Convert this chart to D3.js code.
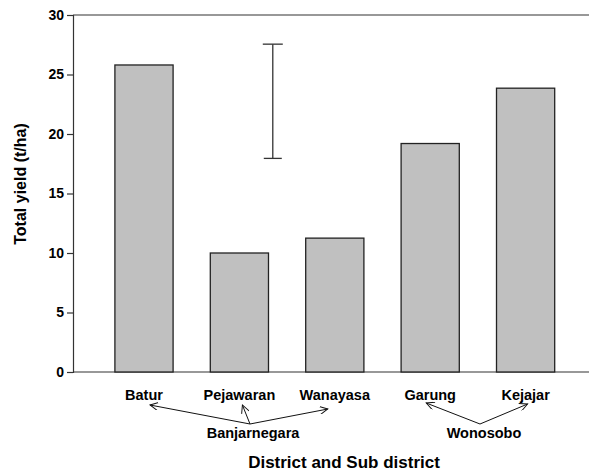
<!DOCTYPE html>
<html>
<head>
<meta charset="utf-8">
<script src="https://cdn.jsdelivr.net/npm/d3@7"></script>
<style>
  body { margin: 0; background: #fff; }
  text { font-family: "Liberation Sans", Arial, sans-serif; font-weight: bold; fill: #000; }
</style>
</head>
<body>
<svg id="chart" width="589" height="472"></svg>
<script>
// data
const subDistricts = ['Batur', 'Pejawaran', 'Wanayasa', 'Garung', 'Kejajar'];
const totalYield = [25.8, 10.0, 11.25, 19.2, 23.85];
const yTicks = [0, 5, 10, 15, 20, 25, 30];
// districts and the sub districts they point to
const districts = ['Banjarnegara', 'Wonosobo'];
const districtMembers = [['Batur', 'Pejawaran', 'Wanayasa'], ['Garung', 'Kejajar']];
// error bar (low, high) and its position between bars (category index units)
const errLow = 17.95;
const errHigh = 27.55;
const errPos = 1.35;

const svg = d3.select('#chart');
const margin = { top: 15, left: 73, bottom: 100 };
const height = +svg.attr('height');
const width = +svg.attr('width');
const plotBottom = height - margin.bottom;

const y = d3.scaleLinear()
    .domain([0, 30])
    .range([plotBottom, margin.top]);

const x = d3.scaleBand()
    .domain(subDistricts)
    .range([96.3, 573.3])
    .paddingInner(0.39)
    .paddingOuter(0.195);

const xIdx = d3.scaleLinear()
    .domain([0, 1])
    .range([x(subDistricts[0]) + x.bandwidth() / 2, x(subDistricts[1]) + x.bandwidth() / 2]);

// frame lines (top + bottom run off the right edge)
svg.append('line')
    .attr('x1', margin.left).attr('x2', width)
    .attr('y1', margin.top).attr('y2', margin.top)
    .attr('stroke', '#333').attr('stroke-width', 1.2);
svg.append('line')
    .attr('x1', margin.left).attr('x2', width)
    .attr('y1', plotBottom).attr('y2', plotBottom)
    .attr('stroke', '#333').attr('stroke-width', 1.2);

// y axis
const yAxis = svg.append('g')
    .attr('transform', `translate(${margin.left},0)`)
    .call(d3.axisLeft(y).tickValues(yTicks).tickSize(6).tickPadding(3));
yAxis.select('.domain').attr('stroke', '#333').attr('stroke-width', 1.2);
yAxis.selectAll('.tick line').attr('stroke', '#333').attr('stroke-width', 1.2);
yAxis.selectAll('.tick text')
    .attr('font-size', 14)
    .attr('font-family', '"Liberation Sans", Arial, sans-serif')
    .attr('font-weight', 'bold')
    .attr('fill', '#000');

// bars
svg.selectAll('rect.bar')
    .data(subDistricts)
    .enter()
    .append('rect')
    .attr('class', 'bar')
    .attr('x', d => x(d))
    .attr('width', x.bandwidth())
    .attr('y', (d, i) => y(totalYield[i]))
    .attr('height', (d, i) => plotBottom - y(totalYield[i]))
    .attr('fill', '#c0c0c0')
    .attr('stroke', '#222')
    .attr('stroke-width', 1.3);

// error bar
const ex = xIdx(errPos);
const eg = svg.append('g').attr('stroke', '#333').attr('stroke-width', 1.3);
eg.append('line').attr('x1', ex).attr('x2', ex).attr('y1', y(errHigh)).attr('y2', y(errLow));
eg.append('line').attr('x1', ex - 10).attr('x2', ex + 10).attr('y1', y(errHigh)).attr('y2', y(errHigh));
eg.append('line').attr('x1', ex - 9).attr('x2', ex + 9).attr('y1', y(errLow)).attr('y2', y(errLow));

// category labels
svg.selectAll('text.cat')
    .data(subDistricts)
    .enter()
    .append('text')
    .attr('class', 'cat')
    .attr('x', d => x(d) + x.bandwidth() / 2)
    .attr('y', plotBottom + 28)
    .attr('text-anchor', 'middle')
    .attr('font-size', 14.5)
    .text(d => d);

// district labels + arrows
const defs = svg.append('defs');
defs.append('marker')
    .attr('id', 'arrow')
    .attr('viewBox', '0 0 10 10')
    .attr('refX', 10).attr('refY', 5)
    .attr('markerWidth', 11).attr('markerHeight', 8)
    .attr('markerUnits', 'userSpaceOnUse')
    .attr('orient', 'auto')
    .append('path')
    .attr('d', 'M0,0 L10,5 L0,10')
    .attr('fill', 'none')
    .attr('stroke', '#111')
    .attr('stroke-width', 1.2);

// arrow tips relative to each category label centre
const tipOffset = { Batur: [6, 33], Pejawaran: [3, 33], Wanayasa: [-7, 37], Garung: [-4, 31], Kejajar: [2, 32] };

districts.forEach((name, k) => {
  const members = districtMembers[k];
  const labelX = k === 0 ? 253 : 484;
  const originX = k === 0 ? 250 : 480;
  const originY = plotBottom + 52;
  members.forEach(m => {
    const mx = x(m) + x.bandwidth() / 2 + tipOffset[m][0];
    svg.append('line')
      .attr('x1', originX).attr('y1', originY)
      .attr('x2', mx).attr('y2', plotBottom + tipOffset[m][1])
      .attr('stroke', '#111')
      .attr('stroke-width', 1)
      .attr('marker-end', 'url(#arrow)');
  });
  svg.append('text')
    .attr('x', labelX)
    .attr('y', plotBottom + 66)
    .attr('text-anchor', 'middle')
    .attr('font-size', 14.5)
    .text(name);
});

// axis titles
svg.append('text')
    .attr('x', 344)
    .attr('y', 468)
    .attr('text-anchor', 'middle')
    .attr('font-size', 17)
    .text('District and Sub district');

svg.append('text')
    .attr('transform', `translate(26,184) rotate(-90)`)
    .attr('text-anchor', 'middle')
    .attr('font-size', 16)
    .text('Total yield (t/ha)');
</script>
</body>
</html>
